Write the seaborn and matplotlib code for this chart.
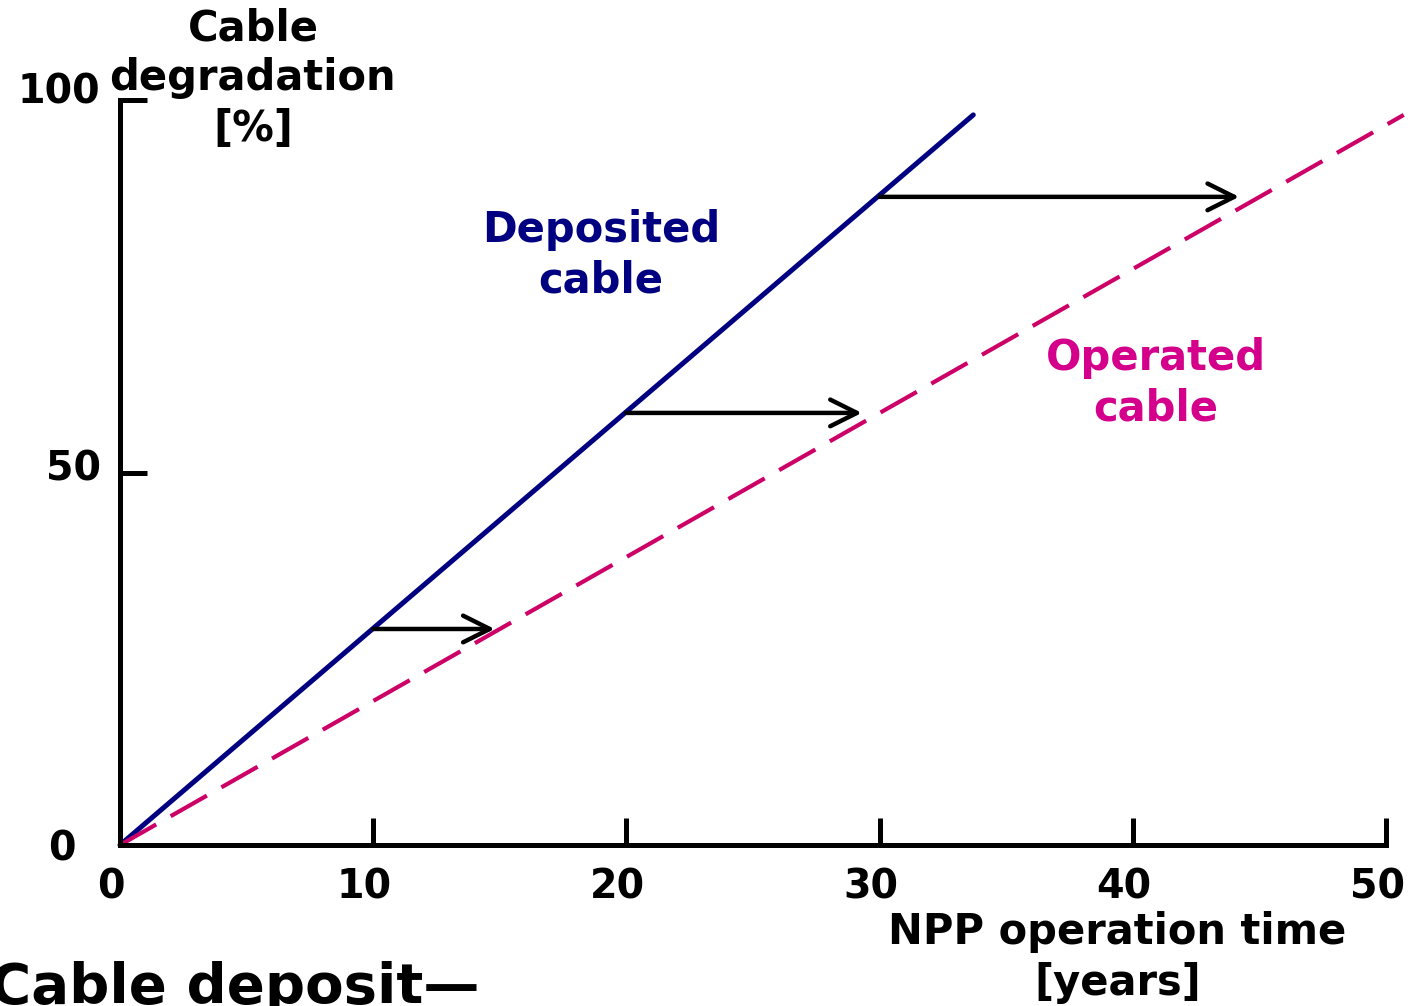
import numpy as np
import pandas as pd
import matplotlib
matplotlib.use("Agg")
import matplotlib.pyplot as plt
from matplotlib.transforms import ScaledTranslation
import seaborn as sns

# degradation lines (years, %)
dep_years = [0, 33.7]
dep_degradation = [0, 98.0]
op_years = [0, 50.7]
op_degradation = [0, 98.0]

# horizontal shift arrows: deposited -> operated
arrow_from_years = [10, 20, 30]
arrow_to_years = [14.8, 29.3, 44.2]
arrow_levels = [29, 58, 87]

x_ticks = [0, 10, 20, 30, 40, 50]
y_ticks = [0, 50, 100]

NAVY = "#000080"
LINE_MAGENTA = "#CC0066"
TEXT_MAGENTA = "#D4008C"

sns.set_style("ticks")
plt.rcParams["font.family"] = ["DejaVu Sans"]
plt.rcParams["font.weight"] = "bold"
plt.rcParams["text.color"] = "black"
plt.rcParams["axes.labelcolor"] = "black"
plt.rcParams["xtick.color"] = "black"
plt.rcParams["ytick.color"] = "black"

df_dep = pd.DataFrame({"years": dep_years, "deg": dep_degradation})
df_op = pd.DataFrame({"years": op_years, "deg": op_degradation})

fig = plt.figure(figsize=(14.13, 10.06), dpi=100)
ax = fig.add_axes([0.0849, 0.160, 0.896, 0.7406])

sns.lineplot(data=df_dep, x="years", y="deg", ax=ax, color=NAVY, lw=3.6, clip_on=False)
sns.lineplot(data=df_op, x="years", y="deg", ax=ax, color=LINE_MAGENTA, lw=3.0,
             dashes=False, clip_on=False)
ax.lines[-1].set_dashes((10, 4))

for x0, x1, y in zip(arrow_from_years, arrow_to_years, arrow_levels):
    ax.annotate("", xy=(x1, y), xytext=(x0, y),
                arrowprops=dict(arrowstyle="->", lw=3.2, color="black",
                                mutation_scale=48, shrinkA=0, shrinkB=0))

ax.set_xlim(0, 50)
ax.set_ylim(0, 100)
ax.set_xticks(x_ticks)
ax.set_yticks(y_ticks)
ax.set_xticklabels([str(v) for v in x_ticks], fontsize=28.5, fontweight="bold")
ax.set_yticklabels([str(v) for v in y_ticks], fontsize=28.5, fontweight="bold")
ax.tick_params(direction="in", length=19.5, width=3.6, color="black", labelcolor="black")
ax.tick_params(axis="y", pad=14)
ax.tick_params(axis="x", pad=16)

# small nudges of tick labels as in the original
for lab in ax.get_xticklabels():
    lab.set_transform(lab.get_transform() + ScaledTranslation(-0.09, 0, fig.dpi_scale_trans))
ylabs = ax.get_yticklabels()
y_nudges = [(-0.25, 0.0), (0.0, 0.08), (0.0, 0.12)]
for lab, (dx, dy) in zip(ylabs, y_nudges):
    lab.set_transform(lab.get_transform() + ScaledTranslation(dx, dy, fig.dpi_scale_trans))

sns.despine(ax=ax)
for side in ["left", "bottom"]:
    ax.spines[side].set_linewidth(3.6)
    ax.spines[side].set_color("black")

ax.set_ylabel("Cable\ndegradation\n[%]", rotation=0, fontsize=30, fontweight="bold",
              ha="center", va="center", linespacing=1.25)
ax.yaxis.set_label_coords(0.105, 1.029)
ax.set_xlabel("NPP operation time\n[years]", fontsize=30, fontweight="bold",
              ha="center", va="center", linespacing=1.25)
ax.xaxis.set_label_coords(0.788, -0.151)

ax.text(19.0, 79.2, "Deposited\ncable", color=NAVY, fontsize=30, fontweight="bold",
        ha="center", va="center", linespacing=1.25)
ax.text(40.9, 62.0, "Operated\ncable", color=TEXT_MAGENTA, fontsize=30, fontweight="bold",
        ha="center", va="center", linespacing=1.25)

fig.text(-0.007, 0.003, "Cable deposit\u2014", fontsize=40.5, fontweight="bold",
         ha="left", va="baseline")

fig.savefig("out.png", dpi=100)
plt.close(fig)
